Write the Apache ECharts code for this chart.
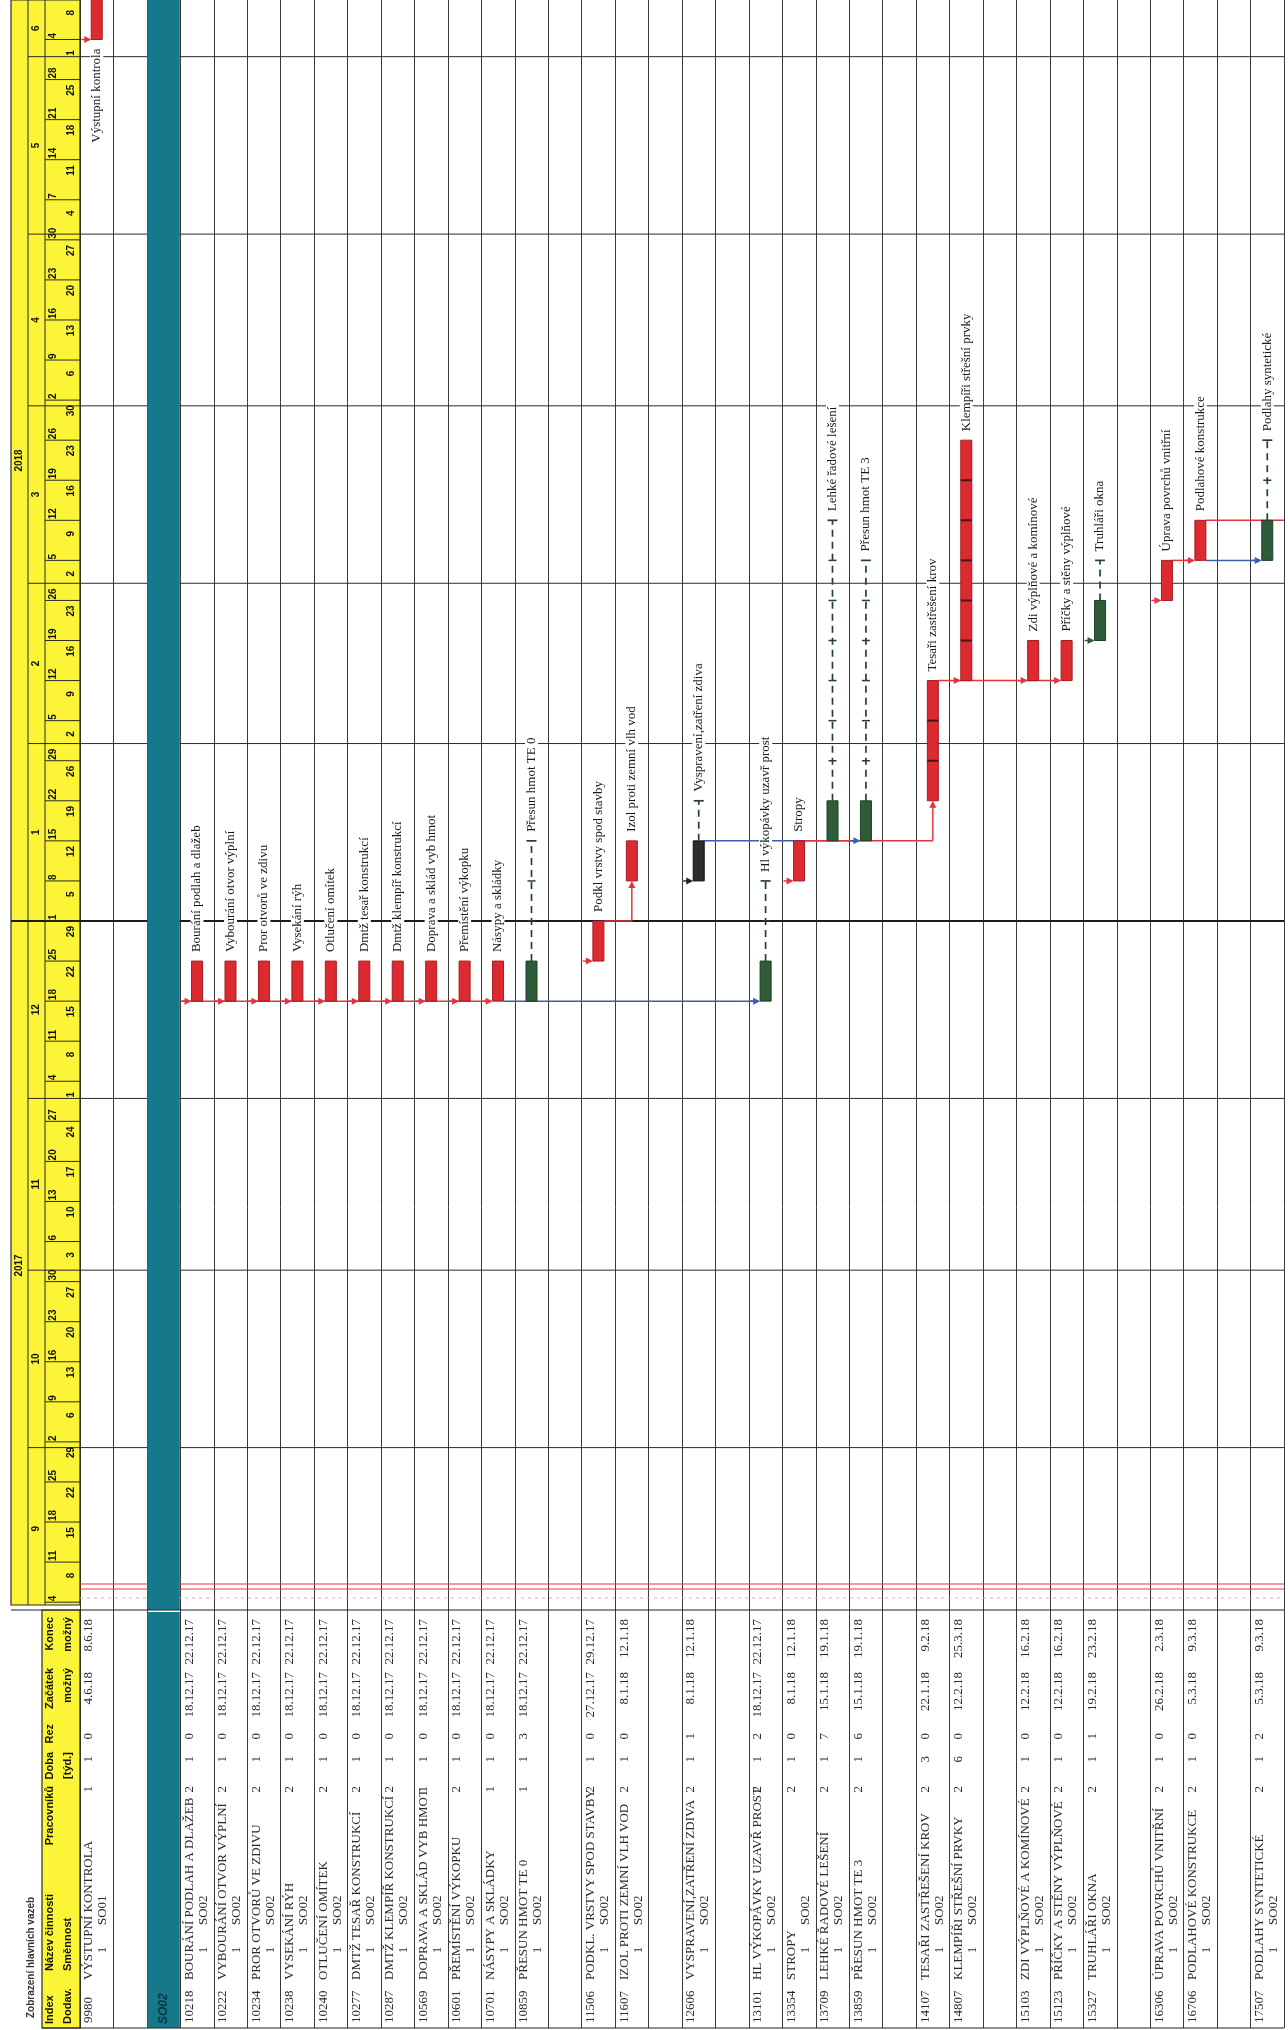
<!DOCTYPE html>
<html>
<head>
<meta charset="utf-8">
<script src="https://cdn.jsdelivr.net/npm/echarts@6/dist/echarts.min.js"></script>
<style>
  html, body { margin: 0; padding: 0; background: #fff; }
  #gantt { width: 1288px; height: 2030px; }
</style>
</head>
<body>
<div id="gantt"></div>
<script>
// time runs upward, one column per row of the schedule
var axisStart = '2017-09-02T15:07:00Z';
var axisEnd = '2018-06-10T21:36:00Z';
var pageLineDate = '2017-09-07';

var yearStarts = ['2017-01-01', '2018-01-01'];
var yearLabels = ['2017', '2018'];
var monthStarts = ['2017-09-01', '2017-10-01', '2017-11-01', '2017-12-01', '2018-01-01',
                   '2018-02-01', '2018-03-01', '2018-04-01', '2018-05-01', '2018-06-01'];
var monthLabels = ['9', '10', '11', '12', '1', '2', '3', '4', '5', '6'];
var weekMondays = [
  '2017-09-04', '2017-09-11', '2017-09-18', '2017-09-25', '2017-10-02', '2017-10-09', '2017-10-16',
  '2017-10-23', '2017-10-30', '2017-11-06', '2017-11-13', '2017-11-20', '2017-11-27', '2017-12-04',
  '2017-12-11', '2017-12-18', '2017-12-25', '2018-01-01', '2018-01-08', '2018-01-15', '2018-01-22',
  '2018-01-29', '2018-02-05', '2018-02-12', '2018-02-19', '2018-02-26', '2018-03-05', '2018-03-12',
  '2018-03-19', '2018-03-26', '2018-04-02', '2018-04-09', '2018-04-16', '2018-04-23', '2018-04-30',
  '2018-05-07', '2018-05-14', '2018-05-21', '2018-05-28', '2018-06-04'];

var rowCount = 36;
var summaryRow = 2;
var summaryLabel = 'SO02';

var taskRow = [0, 3, 4, 5, 6, 7, 8, 9, 10, 11, 12, 13, 15, 16, 18, 20, 21, 22, 23, 25, 26, 28, 29, 30, 32, 33, 35];
var taskId = ['9980', '10218', '10222', '10234', '10238', '10240', '10277', '10287', '10569', '10601', '10701',
              '10859', '11506', '11607', '12606', '13101', '13354', '13709', '13859', '14107', '14807', '15103',
              '15123', '15327', '16306', '16706', '17507'];
var taskName = ['VÝSTUPNÍ KONTROLA', 'BOURÁNÍ PODLAH A DLAŽEB', 'VYBOURÁNÍ OTVOR VÝPLNÍ', 'PROR OTVORŮ VE ZDIVU',
  'VYSEKÁNÍ RÝH', 'OTLUČENÍ OMÍTEK', 'DMTŽ TESAŘ KONSTRUKCÍ', 'DMTŽ KLEMPÍŘ KONSTRUKCÍ', 'DOPRAVA A SKLÁD VYB HMOT',
  'PŘEMÍSTĚNÍ VÝKOPKU', 'NÁSYPY A SKLÁDKY', 'PŘESUN HMOT TE 0', 'PODKL. VRSTVY SPOD STAVBY', 'IZOL PROTI ZEMNÍ VLH VOD',
  'VYSPRAVENÍ,ZATŘENÍ ZDIVA', 'HL VÝKOPÁVKY UZAVŘ PROST', 'STROPY', 'LEHKÉ ŘADOVÉ LEŠENÍ', 'PŘESUN HMOT TE 3',
  'TESAŘI ZASTŘEŠENÍ KROV', 'KLEMPÍŘI STŘEŠNÍ PRVKY', 'ZDI VÝPLŇOVÉ A KOMÍNOVÉ', 'PŘÍČKY A STĚNY VÝPLŇOVÉ',
  'TRUHLÁŘI OKNA', 'ÚPRAVA POVRCHŮ VNITŘNÍ', 'PODLAHOVÉ KONSTRUKCE', 'PODLAHY SYNTETICKÉ'];
var taskLabel = ['Výstupní kontrola', 'Bourání podlah a dlažeb', 'Vybourání otvor výplní', 'Pror otvorů ve zdivu',
  'Vysekání rýh', 'Otlučení omítek', 'Dmtž tesař konstrukcí', 'Dmtž klempíř konstrukcí', 'Doprava a sklád vyb hmot',
  'Přemístění výkopku', 'Násypy a skládky', 'Přesun hmot TE 0', 'Podkl vrstvy spod stavby', 'Izol proti zemní vlh vod',
  'Vyspravení,zatření zdiva', 'Hl výkopávky uzavř prost', 'Stropy', 'Lehké řadové lešení', 'Přesun hmot TE 3',
  'Tesaři zastřešení krov', 'Klempíři střešní prvky', 'Zdi výplňové a komínové', 'Příčky a stěny výplňové',
  'Truhláři okna', 'Úprava povrchů vnitřní', 'Podlahové konstrukce', 'Podlahy syntetické'];
var taskShift = [1, 1, 1, 1, 1, 1, 1, 1, 1, 1, 1, 1, 1, 1, 1, 1, 1, 1, 1, 1, 1, 1, 1, 1, 1, 1, 1];
var taskObject = ['SO01', 'SO02', 'SO02', 'SO02', 'SO02', 'SO02', 'SO02', 'SO02', 'SO02', 'SO02', 'SO02', 'SO02',
  'SO02', 'SO02', 'SO02', 'SO02', 'SO02', 'SO02', 'SO02', 'SO02', 'SO02', 'SO02', 'SO02', 'SO02', 'SO02', 'SO02', 'SO02'];
var taskWorkers = [1, 2, 2, 2, 2, 2, 2, 2, 1, 2, 1, 1, 2, 2, 2, 2, 2, 2, 2, 2, 2, 2, 2, 2, 2, 2, 2];
var taskWeeks = [1, 1, 1, 1, 1, 1, 1, 1, 1, 1, 1, 1, 1, 1, 1, 1, 1, 1, 1, 3, 6, 1, 1, 1, 1, 1, 1];
var taskSlack = [0, 0, 0, 0, 0, 0, 0, 0, 0, 0, 0, 3, 0, 0, 1, 2, 0, 7, 6, 0, 0, 0, 0, 1, 0, 0, 2];
var startText = ['4.6.18', '18.12.17', '18.12.17', '18.12.17', '18.12.17', '18.12.17', '18.12.17', '18.12.17',
  '18.12.17', '18.12.17', '18.12.17', '18.12.17', '27.12.17', '8.1.18', '8.1.18', '18.12.17', '8.1.18', '15.1.18',
  '15.1.18', '22.1.18', '12.2.18', '12.2.18', '12.2.18', '19.2.18', '26.2.18', '5.3.18', '5.3.18'];
var endText = ['8.6.18', '22.12.17', '22.12.17', '22.12.17', '22.12.17', '22.12.17', '22.12.17', '22.12.17',
  '22.12.17', '22.12.17', '22.12.17', '22.12.17', '29.12.17', '12.1.18', '12.1.18', '22.12.17', '12.1.18', '19.1.18',
  '19.1.18', '9.2.18', '25.3.18', '16.2.18', '16.2.18', '23.2.18', '2.3.18', '9.3.18', '9.3.18'];
// bars as drawn on the sheet
var barStart = ['2018-06-04', '2017-12-18', '2017-12-18', '2017-12-18', '2017-12-18', '2017-12-18', '2017-12-18',
  '2017-12-18', '2017-12-18', '2017-12-18', '2017-12-18', '2017-12-18', '2017-12-25', '2018-01-08', '2018-01-08',
  '2017-12-18', '2018-01-08', '2018-01-15', '2018-01-15', '2018-01-22', '2018-02-12', '2018-02-12', '2018-02-12',
  '2018-02-19', '2018-02-26', '2018-03-05', '2018-03-05'];
var barEnd = ['2018-06-11', '2017-12-25', '2017-12-25', '2017-12-25', '2017-12-25', '2017-12-25', '2017-12-25',
  '2017-12-25', '2017-12-25', '2017-12-25', '2017-12-25', '2017-12-25', '2018-01-01', '2018-01-15', '2018-01-15',
  '2017-12-25', '2018-01-15', '2018-01-22', '2018-01-22', '2018-02-12', '2018-03-26', '2018-02-19', '2018-02-19',
  '2018-02-26', '2018-03-05', '2018-03-12', '2018-03-12'];
var slackEnd = [null, null, null, null, null, null, null, null, null, null, null, '2018-01-15', null, null,
  '2018-01-22', '2018-01-08', null, '2018-03-12', '2018-03-05', null, null, null, null, '2018-03-05', null, null,
  '2018-03-26'];
var taskKind = ['c', 'c', 'c', 'c', 'c', 'c', 'c', 'c', 'c', 'c', 'c', 'n', 'c', 'c', 'k', 'n', 'c', 'n', 'n',
  'c', 'c', 'c', 'c', 'n', 'c', 'c', 'n'];
var taskArrow = ['r', 'r', 'r', 'r', 'r', 'r', 'r', 'r', 'r', 'r', 'r', '', 'r', '', 'k', 'b', 'r', '', 'b',
  '', 'r', 'r', 'r', 'n', 'r', 'r', 'b'];
var labelBeforeBar = ['9980'];

// main links between tasks (by row)
var linkFrom = [2, 12, 15, 18, 21, 25, 32, 33, 33];
var linkTo = [12, 20, 16, 23, 25, 29, 33, 35, 36];
var linkAt = ['2017-12-18', '2017-12-18', '2018-01-01', '2018-01-15', '2018-01-15', '2018-02-12', '2018-03-05',
  '2018-03-05', '2018-03-12'];
var linkUp = [null, null, '2018-01-08', null, '2018-01-22', null, null, null, null];
var linkKind = ['r', 'b', 'r', 'b', 'r', 'r', 'r', 'b', 'r'];

var DAY = 86400000;
function t(s) { return +new Date(s.length > 10 ? s : s + 'T00:00:00Z'); }
var tMin = t(axisStart), tMax = t(axisEnd);

var YELLOW = '#fbf437';
var TEAL = '#15798b';
var BAR_W = 11;
var SLACK_COL = '#25402d';
var LABEL_FONT = '13px "Liberation Serif"';
var TABLE_FONT = '13px "Liberation Serif"';
var HEAD_FONT = 'bold 10px "Liberation Sans"';
var kindStyle = {
  c: { fill: '#dd2a30', stroke: '#a21d22' },
  n: { fill: '#2e5b38', stroke: '#1f3f27' },
  k: { fill: '#2c2c2c', stroke: '#111' }
};
var linkColor = { r: '#e5343b', b: '#3a5db3', k: '#222', n: '#2e5b38' };
var HX = { left: 11, year: 28, month: 45, right: 80, bottom: 1605 };

function vtext(str, x, y, align, font, fill, bg) {
  var el = {
    type: 'text', x: x, y: y, rotation: Math.PI / 2,
    style: { text: str, x: 0, y: 0, font: font, fill: fill || '#111',
      align: align, textAlign: align, verticalAlign: 'middle', textVerticalAlign: 'middle' }
  };
  if (bg) { el.style.backgroundColor = bg; el.style.padding = [0, 2]; }
  return el;
}
function seg(x1, y1, x2, y2, color, w, dash) {
  var s = { stroke: color, lineWidth: w || 1 };
  if (dash) s.lineDash = dash;
  return { type: 'line', shape: { x1: x1, y1: y1, x2: x2, y2: y2 }, style: s };
}
function arrowRight(x, y, color) {
  return { type: 'group', children: [
    seg(x - 10, y, x - 2, y, color, 1.4),
    { type: 'polygon', shape: { points: [[x - 7, y - 3.5], [x, y], [x - 7, y + 3.5]] }, style: { fill: color } }
  ] };
}
function arrowUp(x, y, color) {
  return { type: 'polygon', shape: { points: [[x - 3.5, y + 7], [x, y], [x + 3.5, y + 7]] }, style: { fill: color } };
}

function renderFrame(params, api) {
  var cs = params.coordSys;
  var right = cs.x + cs.width;
  var yp = api.coord([0, t(pageLineDate)])[1];
  return { type: 'group', children: [
    { type: 'rect', shape: { x: HX.left, y: 0, width: HX.right - HX.left, height: HX.bottom },
      style: { fill: YELLOW, stroke: '#2a2a2a', lineWidth: 1.2 } },
    seg(HX.year, 0, HX.year, HX.bottom, '#2a2a2a', 1),
    seg(HX.month, 0, HX.month, HX.bottom, '#2a2a2a', 1),
    seg(HX.right, yp - 1, right, yp - 1, '#e4383e', 1.2),
    seg(HX.right, yp + 4, right, yp + 4, '#e4383e', 1.2),
    seg(HX.right, yp + 13, right, yp + 13, '#f2a7aa', 1, [3, 4])
  ] };
}

function renderMonth(params, api) {
  var i = params.dataIndex, cs = params.coordSys;
  var s = t(monthStarts[i]);
  var e = i + 1 < monthStarts.length ? t(monthStarts[i + 1]) : tMax;
  var ch = [];
  var ys = api.coord([0, s])[1];
  if (s > tMin && s < tMax) ch.push(seg(HX.year, ys, cs.x + cs.width, ys, '#2b2b2b', 1));
  var yc = (api.coord([0, Math.max(s, tMin)])[1] + api.coord([0, Math.min(e, tMax)])[1]) / 2;
  ch.push(vtext(monthLabels[i], (HX.year + HX.month) / 2, yc, 'center', HEAD_FONT, '#111'));
  return { type: 'group', children: ch };
}

function renderYear(params, api) {
  var i = params.dataIndex, cs = params.coordSys;
  var s = t(yearStarts[i]);
  var e = i + 1 < yearStarts.length ? t(yearStarts[i + 1]) : tMax;
  var ch = [];
  var ys = api.coord([0, s])[1];
  if (s > tMin && s < tMax) ch.push(seg(HX.left, ys, cs.x + cs.width, ys, '#1c1c1c', 2.2));
  var yc = (api.coord([0, Math.max(s, tMin)])[1] + api.coord([0, Math.min(e, tMax)])[1]) / 2;
  ch.push(vtext(yearLabels[i], (HX.left + HX.year) / 2, yc, 'center', HEAD_FONT, '#111'));
  return { type: 'group', children: ch };
}

function renderWeek(params, api) {
  var i = params.dataIndex;
  var m = t(weekMondays[i]);
  var f = m + 4 * DAY;
  var ym = api.coord([0, m])[1];
  var ch = [seg(HX.month, ym, HX.right, ym, '#2b2b2b', 1)];
  ch.push(vtext(String(new Date(m).getUTCDate()), 53.5, ym - 1, 'left', HEAD_FONT, '#111'));
  if (f < tMax) {
    var yf = api.coord([0, f])[1];
    ch.push(vtext(String(new Date(f).getUTCDate()), 71, yf - 1, 'left', HEAD_FONT, '#111'));
  }
  return { type: 'group', children: ch };
}

function renderSummary(params, api) {
  var a = api.coord([api.value(0), api.value(2)]);
  var b = api.coord([api.value(0) + 1, api.value(1)]);
  return { type: 'rect', shape: { x: a[0] + 0.5, y: a[1], width: b[0] - a[0] - 1, height: b[1] - a[1] },
    style: { fill: TEAL } };
}

function renderTask(params, api) {
  var i = params.dataIndex;
  var r = taskRow[i];
  var xc = api.coord([r + 0.5, tMin])[0];
  var ys = api.coord([r + 0.5, t(barStart[i])])[1];
  var ye = api.coord([r + 0.5, t(barEnd[i])])[1];
  var st = kindStyle[taskKind[i]];
  var xl = xc - BAR_W / 2;
  var ch = [{ type: 'rect', shape: { x: xl, y: ye, width: BAR_W, height: ys - ye },
    style: { fill: st.fill, stroke: st.stroke, lineWidth: 1 } }];
  var k;
  for (k = 1; k < taskWeeks[i]; k++) {
    var yw = api.coord([0, t(barStart[i]) + k * 7 * DAY])[1];
    ch.push(seg(xl, yw, xl + BAR_W, yw, '#4a1414', 2));
  }
  if (taskArrow[i]) ch.push(arrowRight(xl, ys, linkColor[taskArrow[i]]));
  var top = ye;
  if (slackEnd[i]) {
    var yk = api.coord([0, t(slackEnd[i])])[1];
    ch.push(seg(xc, ye, xc, yk, SLACK_COL, 1.7, [7, 5]));
    for (k = 1; k < taskSlack[i]; k++) {
      var yq = api.coord([0, t(barEnd[i]) + k * 7 * DAY])[1];
      ch.push(seg(xc - 4, yq, xc + 4, yq, SLACK_COL, 1.5));
    }
    ch.push(seg(xc - 5, yk, xc + 5, yk, SLACK_COL, 1.7));
    top = yk;
  }
  if (labelBeforeBar.indexOf(taskId[i]) >= 0) {
    ch.push(vtext(taskLabel[i], xc, ys + 7, 'right', LABEL_FONT, '#1a1a1a', '#fff'));
  } else {
    ch.push(vtext(taskLabel[i], xc, top - 7, 'left', LABEL_FONT, '#1a1a1a', '#fff'));
  }
  return { type: 'group', children: ch };
}

function renderLink(params, api) {
  var i = params.dataIndex;
  var f = linkFrom[i], to = linkTo[i];
  var col = linkColor[linkKind[i]];
  var yl = api.coord([0, t(linkAt[i])])[1];
  var xs = f === summaryRow ? api.coord([f + 1, tMin])[0] : api.coord([f + 0.5, tMin])[0] + BAR_W / 2;
  var xe;
  if (to >= rowCount) xe = api.coord([rowCount, tMin])[0];
  else if (linkUp[i]) xe = api.coord([to + 0.5, tMin])[0];
  else xe = api.coord([to + 0.5, tMin])[0] - BAR_W / 2 - 2;
  var ch = [seg(xs, yl, xe, yl, col, 1.5)];
  if (linkUp[i]) {
    var yu = api.coord([0, t(linkUp[i])])[1];
    ch.push(seg(xe, yl, xe, yu + 4, col, 1.5));
    ch.push(arrowUp(xe, yu, col));
  }
  return { type: 'group', children: ch };
}

function renderTable(params, api) {
  var i = params.dataIndex, cs = params.coordSys;
  var xl = api.coord([taskRow[i], 0.5])[0];
  var x1 = xl + 9, x2 = xl + 23, T = cs.y;
  var c = '#2a2a2a';
  return { type: 'group', children: [
    vtext(taskId[i], x1, T + 413, 'left', TABLE_FONT, c),
    vtext(taskName[i], x1, T + 370, 'left', TABLE_FONT, c),
    vtext(String(taskWorkers[i]), x1, T + 176, 'right', TABLE_FONT, c),
    vtext(String(taskWeeks[i]), x1, T + 146, 'right', TABLE_FONT, c),
    vtext(String(taskSlack[i]), x1, T + 123, 'right', TABLE_FONT, c),
    vtext(startText[i], x1, T + 62, 'right', TABLE_FONT, c),
    vtext(endText[i], x1, T + 9, 'right', TABLE_FONT, c),
    vtext(String(taskShift[i]), x2, T + 340, 'center', TABLE_FONT, c),
    vtext(taskObject[i], x2, T + 315, 'left', TABLE_FONT, c)
  ] };
}

function renderTableSummary(params, api) {
  var cs = params.coordSys;
  var a = api.coord([api.value(0), 1])[0];
  var b = api.coord([api.value(0) + 1, 1])[0];
  return { type: 'group', children: [
    { type: 'rect', shape: { x: a + 0.5, y: cs.y + 2, width: b - a - 1, height: cs.height - 2 }, style: { fill: TEAL } },
    vtext(summaryLabel, (a + b) / 2, cs.y + cs.height - 4, 'left', 'italic bold 12px "Liberation Sans"', '#0b3440')
  ] };
}

var headerTexts = [
  ['Index', 50, 2024, 'left'], ['Dodav.', 68, 2024, 'left'],
  ['Název činnosti', 50, 1971, 'left'], ['Směnnost', 68, 1971, 'left'],
  ['Pracovníků', 50, 1786, 'right'],
  ['Doba', 50, 1752, 'right'], ['[týd.]', 68, 1752, 'right'],
  ['Rez', 50, 1724, 'right'],
  ['Začátek', 50, 1668, 'right'], ['možný', 68, 1668, 'right'],
  ['Konec', 50, 1617, 'right'], ['možný', 68, 1617, 'right']
];

var graphics = [
  { type: 'rect', z: 5, shape: { x: 42, y: 1610, width: 38, height: 418 }, style: { fill: YELLOW, stroke: '#2a2a2a', lineWidth: 1.2 } },
  { type: 'line', z: 6, shape: { x1: 11, y1: 1610, x2: 1284, y2: 1610 }, style: { stroke: '#222', lineWidth: 1.2 } },
  { type: 'line', z: 6, shape: { x1: 42, y1: 2028, x2: 1284, y2: 2028 }, style: { stroke: '#222', lineWidth: 1 } }
];
headerTexts.forEach(function (h) {
  var el = vtext(h[0], h[1], h[2], h[3], 'bold 11px "Liberation Sans"', '#111');
  el.z = 7;
  graphics.push(el);
});
var ttl = vtext('Zobrazení hlavních vazeb', 31, 2018, 'left', 'bold 10px "Liberation Sans"', '#333');
ttl.z = 7;
graphics.push(ttl);

var axisCommon = {
  type: 'value', min: 0, max: rowCount, interval: 1,
  axisLine: { show: false }, axisTick: { show: false }, axisLabel: { show: false },
  splitLine: { show: true, lineStyle: { color: '#3a3a3a', width: 1 } }
};

var chart = echarts.init(document.getElementById('gantt'));
chart.setOption({
  animation: false,
  backgroundColor: '#fff',
  grid: [
    { left: 80, top: 0, width: 1204, height: 1610 },
    { left: 80, top: 1610, width: 1204, height: 418 }
  ],
  xAxis: [
    Object.assign({ gridIndex: 0 }, axisCommon),
    Object.assign({ gridIndex: 1 }, axisCommon)
  ],
  yAxis: [
    { gridIndex: 0, type: 'time', min: tMin, max: tMax, axisLine: { show: false }, axisTick: { show: false },
      axisLabel: { show: false }, splitLine: { show: false } },
    { gridIndex: 1, type: 'value', min: 0, max: 1, axisLine: { show: false }, axisTick: { show: false },
      axisLabel: { show: false }, splitLine: { show: false } }
  ],
  graphic: graphics,
  series: [
    { type: 'custom', name: 'frame', z: 1, silent: true, data: [[0, tMin]], renderItem: renderFrame },
    { type: 'custom', name: 'months', z: 2, silent: true,
      data: monthStarts.map(function (s) { return [0, t(s)]; }), renderItem: renderMonth },
    { type: 'custom', name: 'years', z: 3, silent: true,
      data: yearStarts.map(function (s) { return [0, t(s)]; }), renderItem: renderYear },
    { type: 'custom', name: 'weeks', z: 3, silent: true,
      data: weekMondays.map(function (s) { return [0, t(s)]; }), renderItem: renderWeek },
    { type: 'custom', name: 'summary', z: 3, silent: true,
      data: [[summaryRow, tMin, tMax]], encode: { x: 0, y: [1, 2] }, renderItem: renderSummary },
    { type: 'custom', name: 'links', z: 4, silent: true,
      data: linkFrom.map(function (f, i) { return [f, t(linkAt[i])]; }), renderItem: renderLink },
    { type: 'custom', name: 'tasks', z: 5, silent: true,
      data: taskRow.map(function (r, i) { return [r, t(barStart[i]), t(barEnd[i])]; }),
      encode: { x: 0, y: [1, 2] }, renderItem: renderTask },
    { type: 'custom', name: 'table', xAxisIndex: 1, yAxisIndex: 1, z: 5, silent: true,
      data: taskRow.map(function (r) { return [r, 0.5]; }), renderItem: renderTable },
    { type: 'custom', name: 'tableSummary', xAxisIndex: 1, yAxisIndex: 1, z: 4, silent: true,
      data: [[summaryRow, 0.5]], renderItem: renderTableSummary }
  ]
});
</script>
</body>
</html>
